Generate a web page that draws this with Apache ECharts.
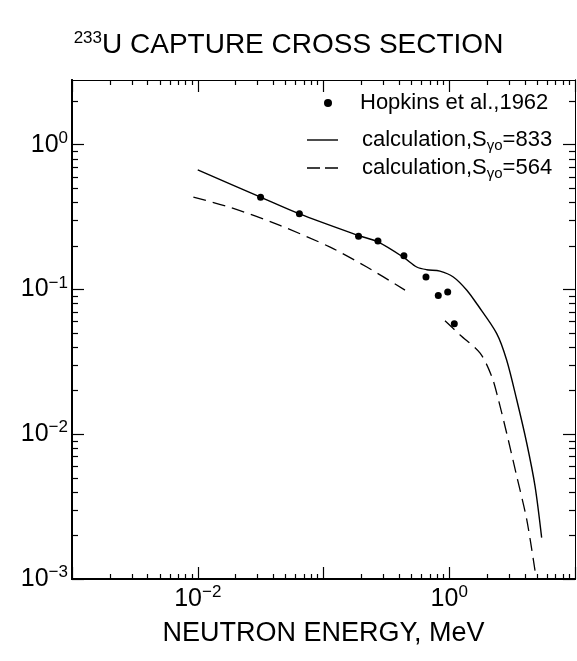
<!DOCTYPE html>
<html><head><meta charset="utf-8">
<script src="https://cdn.jsdelivr.net/npm/echarts@6/dist/echarts.min.js"></script>
<style>html,body{margin:0;padding:0;background:#fff}#c{width:577px;height:661px}</style>
</head><body><div id="c"></div>
<script>
// Hopkins et al., 1962 measured points (MeV, barn)
const hopkinsE = [0.0316, 0.0643, 0.19, 0.271, 0.436, 0.653, 0.818, 0.972, 1.097];
const hopkinsS = [0.434, 0.333, 0.233, 0.216, 0.171, 0.122, 0.091, 0.096, 0.058];
// calculation, S=833 (solid)
const calc833E = [0.01, 0.0316, 0.0643, 0.19, 0.271, 0.436, 0.551, 0.661, 0.843, 1.077, 1.38, 1.65, 2.38, 2.86, 3.44, 4.13, 4.81, 5.43];
const calc833S = [0.67, 0.434, 0.333, 0.236, 0.213, 0.166, 0.143, 0.137, 0.134, 0.122, 0.0989, 0.080, 0.0498, 0.0326, 0.0173, 0.0087, 0.00438, 0.00193];
// calculation, S=564 (dashed), null = gap
const calc564E = [0.00923, 0.018, 0.045, 0.113, 0.221, 0.445, null, 0.925, 1.22, 1.76, 2.18, 2.46, 2.86, 3.44, 4.13, 4.81];
const calc564S = [0.434, 0.370, 0.277, 0.196, 0.143, 0.099, null, 0.0608, 0.0485, 0.0363, 0.025, 0.0173, 0.0102, 0.00513, 0.00258, 0.00114];
// axes
const xLabelValues = [0.01, 1];
const xMajorTicks = [0.001, 0.01, 0.1, 1, 10];
const yLabelValues = [0.001, 0.01, 0.1, 1];
const yMajorTicks = [0.001, 0.01, 0.1, 1];
const xDecades = [0.001, 0.01, 0.1, 1];
const yDecades = [0.001, 0.01, 0.1, 1];
const legendNames = ['Hopkins et al.,1962', 'calculation,S=833', 'calculation,S=564'];

const X_MIN = 0.001, X_MAX = 10, Y_MIN = 0.001, Y_MAX = 2.8;
const FONT = '"Liberation Sans", Arial, Helvetica, sans-serif';

function minors(decades, max) {
  const out = [];
  decades.forEach(d => { for (let k = 2; k <= 9; k++) { const v = +(d * k).toPrecision(6); if (v < max) out.push(v); } });
  return out;
}
const xMinor = minors(xDecades, X_MAX);
const yMinor = minors(yDecades, Y_MAX);

function zip(a, b) { return a.map((v, i) => v == null ? ['-', '-'] : [v, b[i]]); }
function powLabel(v) {
  const e = Math.round(Math.log10(v));
  return '{b|10}{sup|' + (e < 0 ? '\u2212' + (-e) : e) + '}';
}
const labelRich = {
  b: { fontSize: 25, fontFamily: FONT, color: '#000', fontWeight: 'normal' },
  sup: { fontSize: 17, fontFamily: FONT, color: '#000', fontWeight: 'normal', padding: [0, 0, 13, 0] }
};

function xAx(pos, major, labels) {
  return {
    type: 'log', min: X_MIN, max: X_MAX, position: pos,
    axisLine: { show: true, onZero: false, lineStyle: { color: '#000', width: pos === 'bottom' ? 2 : 1 } },
    axisTick: { show: true, inside: true, length: major ? 12 : 5, customValues: major ? xMajorTicks : xMinor, lineStyle: { color: '#000', width: 1.2 } },
    axisLabel: labels ? { show: true, customValues: xLabelValues, formatter: powLabel, rich: labelRich, margin: 5 } : { show: false },
    splitLine: { show: false }, minorTick: { show: false }
  };
}
function yAx(pos, major, labels) {
  return {
    type: 'log', min: Y_MIN, max: Y_MAX, position: pos,
    axisLine: { show: true, onZero: false, lineStyle: { color: '#000', width: pos === 'left' ? 2 : 1 } },
    axisTick: { show: true, inside: true, length: major ? 12 : 6, customValues: major ? yMajorTicks : yMinor, lineStyle: { color: '#000', width: 1.2 } },
    axisLabel: labels ? { show: true, customValues: yLabelValues, formatter: powLabel, rich: labelRich, margin: 4 } : { show: false },
    splitLine: { show: false }, minorTick: { show: false }
  };
}

const xMain = xAx('bottom', true, true);
xMain.name = 'NEUTRON ENERGY, MeV';
xMain.nameLocation = 'middle';
xMain.nameGap = 41;
xMain.nameTextStyle = { fontSize: 27, fontFamily: FONT, color: '#000', fontWeight: 'normal' };

const legendText = {
  fontSize: 22, fontFamily: FONT, color: '#000',
  rich: {
    m: { fontSize: 22, fontFamily: FONT, color: '#000' },
    sub: { fontSize: 15, fontFamily: FONT, color: '#000', padding: [12, 0, 0, 0] }
  }
};
function legFmt(name) {
  const i = legendNames.indexOf(name);
  if (i === 0) return '{m|' + name + '}';
  return '{m|calculation,S}{sub|\u03b3o}{m|=' + (i === 1 ? '833' : '564') + '}';
}
const solidIcon = 'path://M0,0H31V1.4H0Z';
const dashIcon = 'path://M0,0H13V1.3H0ZM18,0H31V1.3H18Z';

const option = {
  backgroundColor: '#fff',
  animation: false,
  title: {
    text: '{sup|233}{m|U CAPTURE CROSS SECTION}',
    left: 'center', top: 25,
    textStyle: { fontWeight: 'normal', rich: {
      sup: { fontSize: 17, fontFamily: FONT, color: '#000', fontWeight: 'normal', padding: [0, 0, 13, 0] },
      m: { fontSize: 28, fontFamily: FONT, color: '#000', fontWeight: 'normal' }
    } }
  },
  grid: { left: 72, right: 2, top: 80, bottom: 82, containLabel: false },
  legend: [
    { data: [legendNames[0]], left: 324, top: 92, padding: 0, itemWidth: 8, itemHeight: 8, selectedMode: false,
      formatter: legFmt, textStyle: Object.assign({ padding: [0, 0, 0, 23] }, legendText) },
    { data: [{ name: legendNames[1], icon: solidIcon }], left: 307, top: 129, padding: 0, itemWidth: 31, itemHeight: 14, selectedMode: false,
      symbolKeepAspect: true, formatter: legFmt, textStyle: Object.assign({ padding: [0, 0, 0, 19] }, legendText) },
    { data: [{ name: legendNames[2], icon: dashIcon }], left: 307, top: 157, padding: 0, itemWidth: 31, itemHeight: 14, selectedMode: false,
      symbolKeepAspect: true, formatter: legFmt, textStyle: Object.assign({ padding: [0, 0, 0, 19] }, legendText) }
  ],
  xAxis: [xMain, xAx('top', true, false), xAx('bottom', false, false), xAx('top', false, false)],
  yAxis: [yAx('left', true, true), yAx('right', true, false), yAx('left', false, false), yAx('right', false, false)],
  series: [
    { name: legendNames[0], type: 'scatter', data: zip(hopkinsE, hopkinsS), symbol: 'circle', symbolSize: 7,
      itemStyle: { color: '#000', opacity: 1 }, z: 5 },
    { name: legendNames[1], type: 'line', data: zip(calc833E, calc833S), showSymbol: false, symbol: 'none', smooth: 0.3,
      lineStyle: { color: '#000', width: 1.4 }, itemStyle: { color: '#000' } },
    { name: legendNames[2], type: 'line', data: zip(calc564E, calc564S), showSymbol: false, symbol: 'none', smooth: 0.3,
      connectNulls: false, lineStyle: { color: '#000', width: 1.3, type: [13, 7] }, itemStyle: { color: '#000' } }
  ]
};
const chart = echarts.init(document.getElementById('c'), null, { renderer: 'canvas' });
chart.setOption(option);
</script></body></html>
